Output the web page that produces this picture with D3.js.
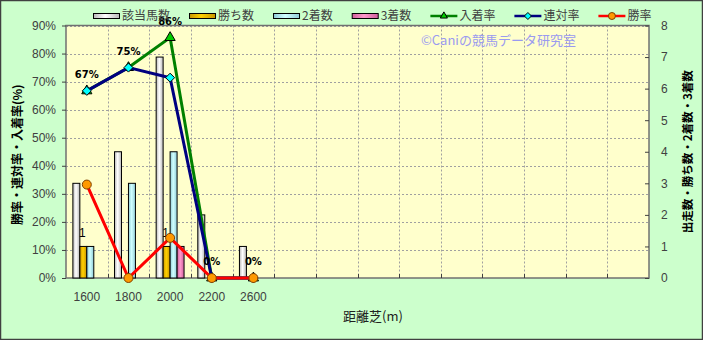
<!DOCTYPE html>
<html>
<head>
<meta charset="utf-8">
<script src="https://cdn.jsdelivr.net/npm/d3@7/dist/d3.min.js"></script>
<style>
  body { margin: 0; background: #fff; }
  svg { display: block; font-family: "Liberation Sans", "Noto Sans CJK JP", sans-serif; }
</style>
</head>
<body>
<svg id="chart" width="703" height="340"></svg>
<script>
// ---- data ----
const categories = ["1600", "1800", "2000", "2200", "2600"];
const emptySlots = 9;               // unlabeled categories on the right
const runners = [3, 4, 7, 2, 1];    // 該当馬数
const wins = [1, 0, 1, 0, 0];       // 勝ち数
const seconds = [1, 3, 4, 0, 0];    // 2着数
const thirds = [0, 0, 1, 0, 0];     // 3着数
const placeRate = [66.7, 75, 85.7, 0, 0];     // 入着率 (%)
const quinellaRate = [66.7, 75, 71.4, 0, 0];  // 連対率 (%)
const winRate = [33.3, 0, 14.3, 0, 0];        // 勝率 (%)
const leftTicks = [0, 10, 20, 30, 40, 50, 60, 70, 80, 90];
const rightTicks = [0, 1, 2, 3, 4, 5, 6, 7, 8];

const barSeries = [
  { name: "該当馬数", values: runners, c0: "#b8b8b8", c1: "#ffffff" },
  { name: "勝ち数", values: wins, c0: "#c89600", c1: "#ffd000" },
  { name: "2着数", values: seconds, c0: "#90ccd8", c1: "#d0ffff" },
  { name: "3着数", values: thirds, c0: "#d0609c", c1: "#ff99cc" }
];
const lineSeries = [
  { name: "入着率", values: placeRate, stroke: "#008000", fill: "#00cc00", marker: "triangle" },
  { name: "連対率", values: quinellaRate, stroke: "#000080", fill: "#00ffff", marker: "diamond" },
  { name: "勝率", values: winRate, stroke: "#ff0000", fill: "#ff9900", marker: "circle" }
];

// ---- layout ----
const W = 703, H = 340;
const plot = { left: 66, top: 25.5, right: 649, bottom: 278 };

const svg = d3.select("#chart");
svg.append("rect").attr("x", 0.5).attr("y", 0.5).attr("width", W - 1).attr("height", H - 1)
  .attr("fill", "#ccffcc").attr("stroke", "#404040").attr("stroke-width", 1.5);

const defs = svg.append("defs");
barSeries.forEach((s, i) => {
  const g = defs.append("linearGradient").attr("id", "grad" + i)
    .attr("x1", "0%").attr("x2", "100%").attr("y1", "0%").attr("y2", "0%");
  g.append("stop").attr("offset", "0%").attr("stop-color", s.c0);
  g.append("stop").attr("offset", "45%").attr("stop-color", s.c1);
  g.append("stop").attr("offset", "100%").attr("stop-color", s.c0);
});

const slotKeys = categories.concat(d3.range(emptySlots).map(i => "_" + i));
const x = d3.scaleBand().domain(slotKeys).range([plot.left, plot.right]).padding(0);
const bw = x.bandwidth();
const xInner = d3.scaleBand().domain(barSeries.map(s => s.name))
  .range([bw * 0.165, bw * 0.835]).padding(0);
const yL = d3.scaleLinear().domain([0, 90]).range([plot.bottom, plot.top]);
const yR = d3.scaleLinear().domain([0, 8]).range([plot.bottom, plot.top]);

// plot area
svg.append("rect").attr("x", plot.left).attr("y", plot.top)
  .attr("width", plot.right - plot.left).attr("height", plot.bottom - plot.top)
  .attr("fill", "#ffffcc");

// gridlines
const grid = svg.append("g").attr("stroke", "#a0a0a0").attr("stroke-width", 1)
  .attr("stroke-dasharray", "2,2");
leftTicks.slice(1).forEach(t => {
  grid.append("line").attr("x1", plot.left).attr("x2", plot.right)
    .attr("y1", Math.round(yL(t)) + 0.5).attr("y2", Math.round(yL(t)) + 0.5);
});
slotKeys.slice(1).forEach(k => {
  const gx = Math.round(x(k)) + 0.5;
  grid.append("line").attr("x1", gx).attr("x2", gx).attr("y1", plot.top).attr("y2", plot.bottom);
});

svg.append("rect").attr("x", plot.left).attr("y", plot.top)
  .attr("width", plot.right - plot.left).attr("height", plot.bottom - plot.top)
  .attr("fill", "none").attr("stroke", "#707070").attr("stroke-width", 1.5);

// x tick marks at category boundaries
slotKeys.slice(1).forEach(k => {
  const gx = Math.round(x(k)) + 0.5;
  svg.append("line").attr("x1", gx).attr("x2", gx).attr("y1", plot.bottom).attr("y2", plot.bottom - 4)
    .attr("stroke", "#404040");
});

// axes
const tickFont = g => g.selectAll("text").attr("font-size", 12).attr("fill", "#404040")
  .attr("font-family", "Liberation Sans, sans-serif");

svg.append("g").attr("transform", `translate(${plot.left},0)`)
  .call(d3.axisLeft(yL).tickValues(leftTicks).tickFormat(d => d + "%").tickSize(4).tickPadding(6))
  .call(g => g.select(".domain").remove())
  .call(g => g.selectAll("line").attr("stroke", "#404040"))
  .call(tickFont);

svg.append("g").attr("transform", `translate(${plot.right},0)`)
  .call(d3.axisRight(yR).tickValues(rightTicks).tickSize(-4).tickPadding(12))
  .call(g => g.select(".domain").remove())
  .call(g => g.selectAll("line").attr("stroke", "#404040"))
  .call(tickFont);

svg.append("g").attr("transform", `translate(0,${plot.bottom})`)
  .call(d3.axisBottom(x).tickSize(0).tickPadding(14)
    .tickFormat(d => d.startsWith("_") ? "" : d))
  .call(g => g.select(".domain").remove())
  .call(tickFont);

// bars
barSeries.forEach((s, i) => {
  svg.append("g").selectAll("rect").data(s.values).join("rect")
    .attr("x", (d, j) => x(categories[j]) + xInner(s.name))
    .attr("y", d => yR(d))
    .attr("width", xInner.bandwidth())
    .attr("height", d => yR(0) - yR(d))
    .attr("fill", `url(#grad${i})`)
    .attr("stroke", "#000").attr("stroke-width", 1)
    .attr("display", d => d > 0 ? null : "none");
});

// win count labels (only non-zero values)
const winLabels = wins.map((v, j) => ({ v, cat: categories[j] })).filter(d => d.v > 0);
svg.append("g").selectAll("text").data(winLabels).join("text")
  .attr("x", d => x(d.cat) + xInner("勝ち数") + xInner.bandwidth() / 2 - 1)
  .attr("y", d => yR(d.v) - 9)
  .attr("text-anchor", "middle").attr("font-size", 12).attr("fill", "#000")
  .text(d => d.v);

// markers
function drawMarker(g, type, fill, size) {
  if (type === "triangle") {
    g.append("path").attr("d", d3.symbol(d3.symbolTriangle, size * size * 0.45)())
      .attr("fill", fill).attr("stroke", "#000").attr("stroke-width", 1);
  } else if (type === "diamond") {
    g.append("path").attr("d", `M0,${-size / 2}L${size / 2},0L0,${size / 2}L${-size / 2},0Z`)
      .attr("fill", fill).attr("stroke", "#000").attr("stroke-width", 1);
  } else {
    g.append("circle").attr("r", size / 2)
      .attr("fill", fill).attr("stroke", "#804000").attr("stroke-width", 1);
  }
}

const cx = j => x(categories[j]) + bw / 2;
lineSeries.forEach(s => {
  const line = d3.line().x((d, j) => cx(j)).y(d => yL(d));
  svg.append("path").datum(s.values).attr("d", line)
    .attr("fill", "none").attr("stroke", s.stroke).attr("stroke-width", 3);
  s.values.forEach((v, j) => {
    const g = svg.append("g").attr("transform", `translate(${cx(j)},${yL(v)})`);
    drawMarker(g, s.marker, s.fill, s.marker === "triangle" ? 10 : 9);
  });
});

// place rate labels
svg.append("g").selectAll("text").data(placeRate).join("text")
  .attr("x", (d, j) => cx(j))
  .attr("y", d => yL(d) - 13)
  .attr("text-anchor", "middle").attr("font-size", 10).attr("font-weight", "bold")
  .attr("fill", "#000").attr("font-family", "DejaVu Sans, sans-serif")
  .text(d => Math.round(d) + "%");

// watermark
svg.append("text").attr("x", 421).attr("y", 45).attr("font-size", 13)
  .attr("fill", "#9a9af0").attr("font-family", "Noto Sans CJK JP, sans-serif")
  .text("©Caniの競馬データ研究室");

// legend
const legend = svg.append("g").attr("font-family", "Noto Sans CJK JP, sans-serif");
let lx = 93;
const ly = 16;
barSeries.concat(lineSeries).forEach((s, i) => {
  const g = legend.append("g").attr("transform", `translate(${lx},${ly})`);
  if (i < barSeries.length) {
    g.append("rect").attr("x", 0.5).attr("y", -2.5).attr("width", 26).attr("height", 5)
      .attr("fill", `url(#grad${i})`).attr("stroke", "#000");
  } else {
    g.append("line").attr("x1", 0).attr("x2", 27).attr("y1", 0).attr("y2", 0)
      .attr("stroke", s.stroke).attr("stroke-width", 2.5);
    const m = g.append("g").attr("transform", "translate(13.5,0)");
    drawMarker(m, s.marker, s.fill, 7);
  }
  const t = g.append("text").attr("x", 29).attr("y", 0).attr("dy", "0.35em")
    .attr("font-size", 12).attr("fill", "#404040").text(s.name);
  lx += 29 + t.node().getComputedTextLength() + 19;
});

// axis titles
svg.append("text").attr("transform", `translate(22,${(plot.top + plot.bottom) / 2 + 3}) rotate(-90)`)
  .attr("text-anchor", "middle").attr("font-size", 12).attr("font-weight", "bold")
  .attr("font-family", "Noto Sans CJK JP, sans-serif").attr("fill", "#000")
  .text("勝率・連対率・入着率(%)");

svg.append("text").attr("transform", `translate(692,${(plot.top + plot.bottom) / 2}) rotate(-90)`)
  .attr("text-anchor", "middle").attr("font-size", 11.5).attr("font-weight", "bold")
  .attr("font-family", "Noto Sans CJK JP, sans-serif").attr("fill", "#000")
  .text("出走数・勝ち数・2着数・3着数");

svg.append("text").attr("x", 373).attr("y", 321).attr("text-anchor", "middle")
  .attr("font-size", 13).attr("font-family", "Noto Sans CJK JP, sans-serif").attr("fill", "#202020")
  .text("距離芝(m)");
</script>
</body>
</html>
